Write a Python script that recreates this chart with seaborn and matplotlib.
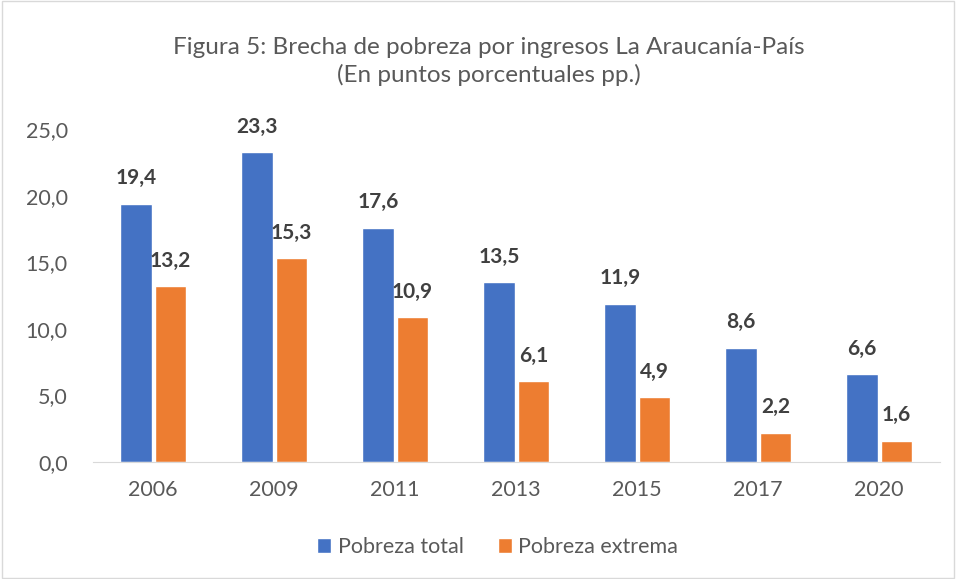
import matplotlib
matplotlib.use("Agg")
import matplotlib.pyplot as plt
import seaborn as sns
import pandas as pd
from matplotlib.patches import Rectangle

years = ["2006", "2009", "2011", "2013", "2015", "2017", "2020"]
pobreza_total = [19.4, 23.3, 17.6, 13.5, 11.9, 8.6, 6.6]
pobreza_extrema = [13.2, 15.3, 10.9, 6.1, 4.9, 2.2, 1.6]
series_names = ["Pobreza total", "Pobreza extrema"]
colors = ["#4472C4", "#ED7D31"]
text_color = "#595959"

df = pd.DataFrame({
    "Año": years * 2,
    "Valor": pobreza_total + pobreza_extrema,
    "Serie": [series_names[0]] * len(years) + [series_names[1]] * len(years),
})

sns.set_style("white")
plt.rcParams["font.family"] = ["Lato", "DejaVu Sans"]

fig = plt.figure(figsize=(9.56, 5.79), dpi=100)
ax = fig.add_axes([0.097, 0.202, 0.886, 0.575])

sns.barplot(data=df, x="Año", y="Valor", hue="Serie", palette=colors,
            width=0.57, gap=0.1, saturation=1, ax=ax)

def fmt(v):
    return f"{v:.1f}".replace(".", ",")

for cont in ax.containers:
    ax.bar_label(cont, labels=[fmt(b.get_height()) for b in cont], padding=11,
                 fontsize=15, fontweight="bold", color="#404040")

ax.set_ylim(0, 25)
ax.set_yticks([0, 5, 10, 15, 20, 25])
ax.set_yticklabels([fmt(v) for v in [0, 5, 10, 15, 20, 25]])
ax.set_xlabel("")
ax.set_ylabel("")
ax.tick_params(axis="both", length=0, labelsize=15.5, labelcolor=text_color)
ax.tick_params(axis="x", pad=13)
ax.tick_params(axis="y", pad=18)
for s in ["top", "right", "left"]:
    ax.spines[s].set_visible(False)
ax.spines["bottom"].set_color("#D9D9D9")

ax.legend(loc="center", bbox_to_anchor=(0.478, -0.255), ncol=2, frameon=False,
          fontsize=15.5, labelcolor=text_color, handlelength=0.65, handleheight=0.65,
          columnspacing=1.6, handletextpad=0.3)

fig.text(0.511, 0.894, "Figura 5: Brecha de pobreza por ingresos La Araucanía-País\n(En puntos porcentuales pp.)",
         ha="center", va="center", fontsize=17.5, color=text_color, linespacing=1.35)

fig.patches.append(Rectangle((0.002, 0.002), 0.996, 0.996, transform=fig.transFigure,
                             fill=False, edgecolor="#D9D9D9", linewidth=1))

fig.savefig("out.png", dpi=100)
